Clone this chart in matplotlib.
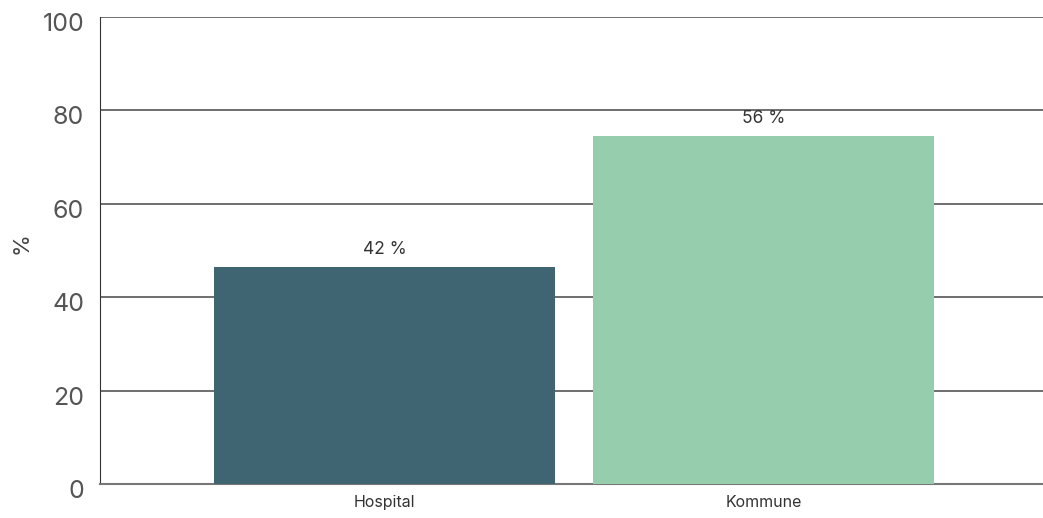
import matplotlib
matplotlib.use('Agg')
import matplotlib.pyplot as plt
import matplotlib.transforms as mtransforms

categories = ['Hospital', 'Kommune']
heights = [46.5, 74.5]
value_labels = ['42 %', '56 %']
colors = ['#3f6472', '#96cdac']

plt.rcParams['font.family'] = ['Inter', 'DejaVu Sans']

fig = plt.figure(figsize=(10.43, 5.18), dpi=100)
ax = fig.add_axes([0.0954, 0.0656, 0.9046, 0.9014])

x = range(len(categories))
bars = ax.bar(x, heights, width=0.9, color=colors, zorder=3)

for b, lab in zip(bars, value_labels):
    ax.text(b.get_x() + b.get_width() / 2, b.get_height() + 2.0, lab,
            ha='center', va='bottom', fontsize=12.5, color='#333333')

ax.set_xlim(-0.753, 1.737)
ax.set_ylim(0, 100)
ax.set_yticks([0, 20, 40, 60, 80, 100])
ax.set_xticks(list(x))
ax.set_xticklabels(categories, fontsize=11.5, color='#333333')
ax.tick_params(axis='y', labelsize=18, labelcolor='#555555', length=0, pad=11)
ax.tick_params(axis='x', length=0, pad=8)

# nudge y tick labels slightly down like the reference
offset = mtransforms.ScaledTranslation(0, -5 / 100, fig.dpi_scale_trans)
for lbl in ax.get_yticklabels():
    lbl.set_transform(lbl.get_transform() + offset)

ax.set_ylabel('%', fontsize=16, color='#444444')
ax.yaxis.set_label_coords(-0.072, 0.516)

ax.yaxis.grid(True, color='#555555', linewidth=1.2, zorder=0)
ax.set_axisbelow(True)
for s in ['top', 'right']:
    ax.spines[s].set_visible(False)
ax.spines['left'].set_color('#333333')
ax.spines['bottom'].set_color('#777777')
ax.spines['bottom'].set_linewidth(1.5)

fig.savefig('out.png', dpi=100)
